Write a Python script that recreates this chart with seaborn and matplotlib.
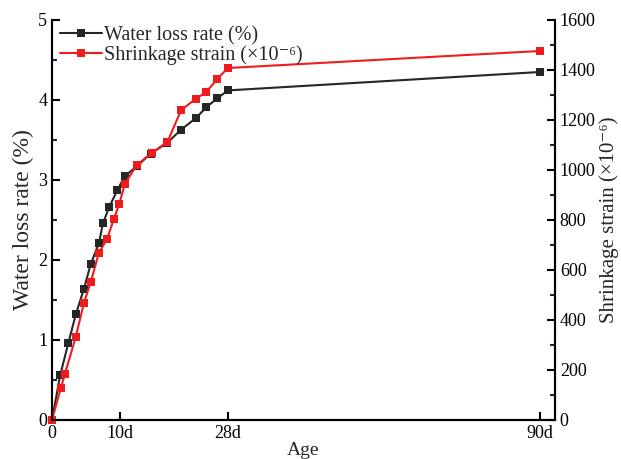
import numpy as np
import pandas as pd
import matplotlib
matplotlib.use("Agg")
import matplotlib.pyplot as plt
import seaborn as sns
from matplotlib.ticker import MultipleLocator, FixedLocator

# ---- data ----
water_days = [0, 1.2, 2.4, 3.5, 4.7, 5.7, 6.9, 7.5, 8.4, 9.6, 10.8, 12.8, 15.1, 17.8,
              20.2, 22.6, 24.4, 26.2, 28, 90]
water_loss = [0.0, 0.56, 0.96, 1.32, 1.64, 1.95, 2.21, 2.46, 2.66, 2.87, 3.05, 3.17,
              3.33, 3.46, 3.63, 3.77, 3.91, 4.02, 4.12, 4.35]
strain_days = [0, 1.3, 1.9, 3.5, 4.7, 5.7, 6.9, 8.1, 9.1, 9.9, 10.8, 12.8, 15.3, 17.9,
               20.2, 22.6, 24.4, 26.2, 28, 90]
strain = [0, 128, 184, 333, 469, 552, 669, 724, 804, 864, 944, 1020, 1068, 1112,
          1240, 1284, 1312, 1364, 1408, 1476]
x_ticks = [0, 10, 28, 90]
x_ticklabels = ["0", "10d", "28d", "90d"]

df_w = pd.DataFrame({"day": water_days, "val": water_loss})
df_s = pd.DataFrame({"day": strain_days, "val": strain})

sns.set_style("ticks")
plt.rcParams["font.family"] = ["Liberation Serif", "DejaVu Serif"]

# piecewise-linear age axis (as in the original figure)
D = np.array([0.0, 10.0, 28.0, 90.0])
P = np.array([0.0, 68.0, 176.0, 488.0])
s_lo = P[1] / D[1]
s_hi = (P[3] - P[2]) / (D[3] - D[2])

def fwd(d):
    d = np.asarray(d, dtype=float)
    out = np.interp(d, D, P)
    out = np.where(d > D[-1], P[-1] + (d - D[-1]) * s_hi, out)
    out = np.where(d < 0, d * s_lo, out)
    return out

def inv(p):
    p = np.asarray(p, dtype=float)
    out = np.interp(p, P, D)
    out = np.where(p > P[-1], D[-1] + (p - P[-1]) / s_hi, out)
    out = np.where(p < 0, p / s_lo, out)
    return out

fig = plt.figure(figsize=(6.21, 4.59), dpi=100)
ax = fig.add_axes([52 / 621, 1 - 420 / 459, (555 - 52) / 621, (420 - 20) / 459])
ax2 = ax.twinx()

black = "#262626"
red = "#ee1c1c"
strain_label = "Shrinkage strain (×10⁻⁶)"

sns.lineplot(data=df_w, x="day", y="val", ax=ax, color=black, marker="s",
             markersize=6, markeredgewidth=0, linewidth=1.5, clip_on=False,
             label="Water loss rate (%)", legend=False)
sns.lineplot(data=df_s, x="day", y="val", ax=ax2, color=red, marker="s",
             markersize=6, markeredgewidth=0, linewidth=1.5, clip_on=False,
             label=strain_label, legend=False)

for a in (ax, ax2):
    a.set_xscale("function", functions=(fwd, inv))
    a.set_xlim(0, 93)
    a.spines["top"].set_visible(False)
    for sp in ("left", "right", "bottom"):
        a.spines[sp].set_linewidth(1.5)
        a.spines[sp].set_color("black")

ax.set_ylim(0, 5)
ax2.set_ylim(0, 1600)
ax.yaxis.set_major_locator(MultipleLocator(1))
ax.yaxis.set_minor_locator(MultipleLocator(0.5))
ax2.yaxis.set_major_locator(MultipleLocator(200))
ax2.yaxis.set_minor_locator(MultipleLocator(100))
ax.xaxis.set_major_locator(FixedLocator(x_ticks))
ax.set_xticklabels(x_ticklabels)
ax.xaxis.set_minor_locator(FixedLocator([]))

ax.tick_params(axis="both", which="major", direction="in", length=6, width=1.5,
               labelsize=13, colors="black")
ax.tick_params(axis="y", which="minor", direction="in", length=3.5, width=1.5)
ax.tick_params(axis="x", which="minor", length=0)
ax2.tick_params(axis="y", which="major", direction="in", length=6, width=1.5,
                labelsize=13, colors="black")
ax2.tick_params(axis="y", which="minor", direction="in", length=3.5, width=1.5)

ax.set_xlabel("Age", fontsize=14, labelpad=0)
ax.set_ylabel("Water loss rate (%)", fontsize=17, labelpad=3)
ax2.set_ylabel(strain_label, fontsize=15, labelpad=2.5)

h1, l1 = ax.get_legend_handles_labels()
h2, l2 = ax2.get_legend_handles_labels()
ax2.legend(h1 + h2, l1 + l2, loc="upper left", bbox_to_anchor=(-0.012, 1.02),
           frameon=False, fontsize=14.5, handlelength=2.1, handletextpad=0.1,
           labelspacing=0.0, borderaxespad=0.3)

fig.savefig("out.png", dpi=100)
